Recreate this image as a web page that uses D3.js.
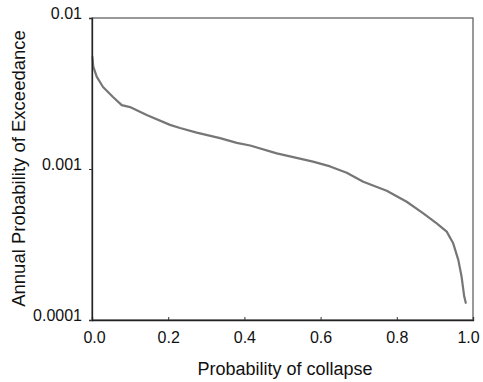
<!DOCTYPE html>
<html>
<head>
<meta charset="utf-8">
<script src="https://cdn.jsdelivr.net/npm/d3@7"></script>
<style>
html,body{margin:0;padding:0;background:#fff;}
svg{display:block;font-family:"Liberation Sans",Arial,Helvetica,sans-serif;}
</style>
</head>
<body>
<svg id="chart" width="483" height="382"></svg>
<script>
// Data
const collapseProb = [0.001, 0.0034, 0.0123, 0.0289, 0.0551, 0.078, 0.0997, 0.1436, 0.2047, 0.231, 0.2748, 0.336, 0.380, 0.415, 0.485, 0.580, 0.625, 0.6685, 0.712, 0.7735, 0.826, 0.8696, 0.9047, 0.931, 0.948, 0.9614, 0.970, 0.977, 0.981];
const exceedance = [0.00552, 0.00476, 0.00409, 0.00349, 0.00300, 0.00265, 0.00257, 0.00228, 0.00196, 0.00187, 0.00174, 0.00160, 0.00149, 0.00143, 0.00127, 0.00112, 0.00104, 0.000945, 0.000824, 0.000718, 0.000607, 0.000509, 0.000437, 0.000385, 0.000322, 0.000250, 0.000194, 0.000143, 0.000130];
const xTickValues = [0, 0.2, 0.4, 0.6, 0.8, 1.0];
const xTickLabels = ["0.0", "0.2", "0.4", "0.6", "0.8", "1.0"];
const yTickValues = [0.0001, 0.001, 0.01];
const yTickLabels = ["0.0001", "0.001", "0.01"];
const xTitle = "Probability of collapse";
const yTitle = "Annual Probability of Exceedance";

const svg = d3.select("#chart");
const L = 92, R = 473, T = 18, B = 320;
const x = d3.scaleLinear().domain([0, 1]).range([L, R]);
const y = d3.scaleLog().domain([0.0001, 0.01]).range([B, T]);

// frame
svg.append("rect").attr("x", L).attr("y", T).attr("width", R - L).attr("height", B - T)
  .attr("fill", "none").attr("stroke", "#555").attr("stroke-width", 1.2);

// curve
const pts = collapseProb.map((d, i) => [d, exceedance[i]]);
svg.append("path").datum(pts)
  .attr("fill", "none").attr("stroke", "#767676").attr("stroke-width", 2.2)
  .attr("stroke-linejoin", "round").attr("stroke-linecap", "round")
  .attr("d", d3.line().x(d => x(d[0])).y(d => y(d[1])));

// x axis
const xAxis = d3.axisBottom(x).tickValues(xTickValues).tickSize(-3)
  .tickFormat((d, i) => xTickLabels[i]);
const gx = svg.append("g").attr("transform", `translate(0,${B})`).call(xAxis);
gx.select(".domain").attr("stroke", "#222").attr("stroke-width", 1.3);
gx.selectAll(".tick line").attr("stroke", "#333");
gx.selectAll(".tick text").attr("y", 23).attr("dy", 0).attr("font-size", 16)
  .attr("font-family", "Liberation Sans, Arial, sans-serif").attr("fill", "#111")
  .attr("x", (d, i) => i === 0 ? 2 : (i === xTickValues.length - 1 ? -5 : 0));

// y axis
const yAxis = d3.axisLeft(y).tickValues(yTickValues).tickSize(3)
  .tickFormat((d, i) => yTickLabels[i]);
const gy = svg.append("g").attr("transform", `translate(${L},0)`).call(yAxis);
gy.select(".domain").attr("stroke", "#222").attr("stroke-width", 1.3);
gy.selectAll(".tick line").attr("stroke", "#333");
gy.selectAll(".tick text").attr("x", -10).attr("dy", 0).attr("y", 0)
  .attr("font-size", 16).attr("font-family", "Liberation Sans, Arial, sans-serif").attr("fill", "#111");

// titles
svg.append("text").attr("x", 285).attr("y", 375).attr("text-anchor", "middle")
  .attr("font-size", 18).attr("fill", "#111").text(xTitle);
svg.append("text").attr("transform", "translate(25,168.5) rotate(-90)")
  .attr("text-anchor", "middle").attr("font-size", 18.5).attr("fill", "#111").text(yTitle);
</script>
</body>
</html>
